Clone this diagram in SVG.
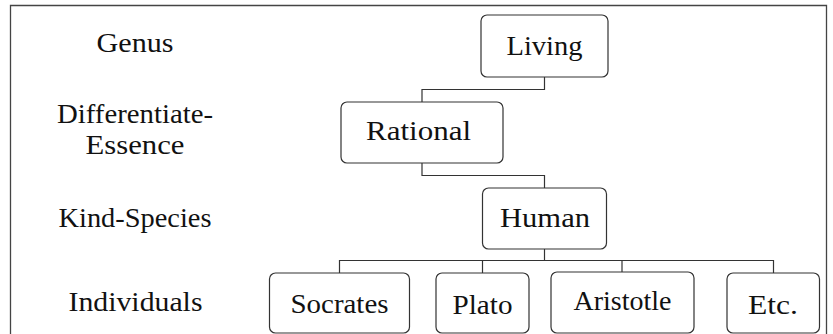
<svg xmlns="http://www.w3.org/2000/svg" width="833" height="334" viewBox="0 0 833 334">
<style>
.frame{fill:none;stroke:#444;stroke-width:1.3}
.box{fill:#fff;stroke:#333;stroke-width:1.2}
.edge{fill:none;stroke:#333;stroke-width:1.2}
text{font-family:"Liberation Serif","Times New Roman",serif;font-size:27px;fill:#111;text-anchor:middle}
</style>
<rect width="833" height="334" fill="#fff"/>
<path class="frame" d="M10.5,340 V5.5 H826.5 V340"/>
<g id="labels">
<text x="135" y="52" textLength="77" lengthAdjust="spacingAndGlyphs">Genus</text>
<text x="135" y="123" textLength="156" lengthAdjust="spacingAndGlyphs">Differentiate-</text>
<text x="135" y="154" textLength="99" lengthAdjust="spacingAndGlyphs">Essence</text>
<text x="135" y="227" textLength="153" lengthAdjust="spacingAndGlyphs">Kind-Species</text>
<text x="135.5" y="311" textLength="134" lengthAdjust="spacingAndGlyphs">Individuals</text>
</g>
<g id="connectors">
<path class="edge" d="M544.5,77 V89.5 H422 V102"/>
<path class="edge" d="M422,163 V175.5 H544.5 V188"/>
<path class="edge" d="M544.5,249 V260.5"/>
<path class="edge" d="M339.5,273 V260.5 H773.5 V273"/>
<path class="edge" d="M482.5,260.5 V273"/>
<path class="edge" d="M622,260.5 V272"/>
</g>
<g id="living"><rect class="box" x="481" y="15" width="127" height="62" rx="6"/><text x="544.5" y="55" textLength="76" lengthAdjust="spacingAndGlyphs">Living</text></g>
<g id="rational"><rect class="box" x="341" y="102" width="162" height="61" rx="6"/><text x="418.5" y="140" textLength="105" lengthAdjust="spacingAndGlyphs">Rational</text></g>
<g id="human"><rect class="box" x="482.5" y="188" width="124" height="61" rx="6"/><text x="545" y="227" textLength="90" lengthAdjust="spacingAndGlyphs">Human</text></g>
<g id="socrates"><rect class="box" x="269.5" y="273" width="140" height="60" rx="6"/><text x="339.5" y="313" textLength="98" lengthAdjust="spacingAndGlyphs">Socrates</text></g>
<g id="plato"><rect class="box" x="436" y="273" width="93" height="60" rx="6"/><text x="482.5" y="314" textLength="60" lengthAdjust="spacingAndGlyphs">Plato</text></g>
<g id="aristotle"><rect class="box" x="551" y="272" width="143" height="61" rx="6"/><text x="622.5" y="310" textLength="98" lengthAdjust="spacingAndGlyphs">Aristotle</text></g>
<g id="etc"><rect class="box" x="727" y="273" width="92.5" height="60" rx="6"/><text x="773" y="314" textLength="50" lengthAdjust="spacingAndGlyphs">Etc.</text></g>
</svg>
